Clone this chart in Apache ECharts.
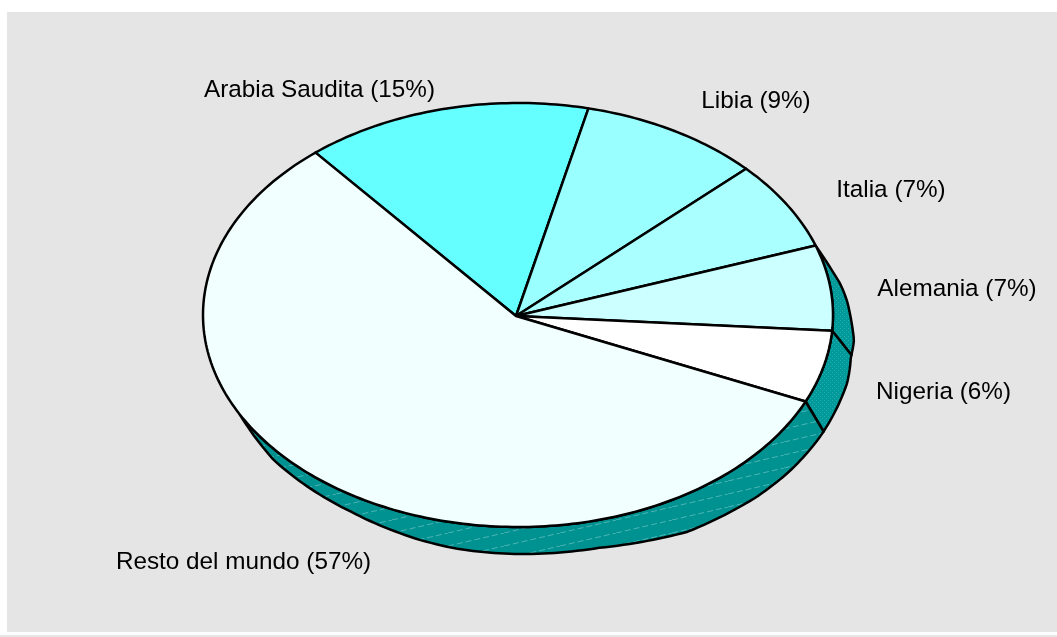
<!DOCTYPE html>
<html>
<head>
<meta charset="utf-8">
<style>html,body{margin:0;padding:0;background:#fff}#c{width:1057px;height:637px}</style>
<script src="https://cdn.jsdelivr.net/npm/echarts@6/dist/echarts.min.js"></script>
</head>
<body>
<div id="c"></div>
<script>
// --- data ---
const categories = ['Arabia Saudita', 'Libia', 'Italia', 'Alemania', 'Nigeria', 'Resto del mundo'];
const shares = [14.7, 9.3, 6.8, 6.5, 5.5, 57.2];          // measured slice sizes
const labels = ['Arabia Saudita (15%)', 'Libia (9%)', 'Italia (7%)', 'Alemania (7%)', 'Nigeria (6%)', 'Resto del mundo (57%)'];

// --- styling / layout ---
const colors = ['#66FFFF', '#99FFFF', '#AAFFFF', '#CCFFFF', '#FFFFFF', '#F2FFFF'];
const labelCenters = [[319.5, 90], [756, 101], [891, 190], [957, 289], [943.5, 392], [243.5, 562]];
const E = {cx: 518, cy: 315, rx: 315, ry: 212, ax: 516, ay: 316, start: -40};
// thickness of the tilted rim, as an offset of the top ellipse by angle (deg clockwise from top)
const rimA  = [71, 77, 83, 90, 95, 102, 114, 122, 132, 137, 150, 165, 180, 192, 198, 212, 231, 242];
const rimDx = [0, 15, 17, 21, 19, 21, 18, 18, 21, 22, 12.5, 0, -3, 0, 0, 0, 0, 0];
const rimDy = [0, 16, 14, 25, 24, 24, 30, 30, 28, 28, 33, 28, 27, 25.5, 23.5, 17, 11, 0];
const FONT = '"Liberation Sans", Arial, sans-serif';

function mk(w, h, draw) {
  const c = document.createElement('canvas'); c.width = w; c.height = h;
  draw(c.getContext('2d')); return c;
}
const dotted = mk(4, 4, g => {
  g.fillStyle = '#009A9A'; g.fillRect(0, 0, 4, 4);
  g.fillStyle = 'rgba(120,200,200,.35)'; g.fillRect(0, 0, 1, 1); g.fillRect(2, 2, 1, 1);
});
const hatched = mk(56, 13, g => {
  g.fillStyle = '#009191'; g.fillRect(0, 0, 56, 13);
  g.strokeStyle = 'rgba(170,225,225,.45)'; g.lineWidth = 1; g.setLineDash([6, 3]);
  g.beginPath(); g.moveTo(0, 13); g.lineTo(56, 0); g.stroke();
});
const rimFill = [null, null, null, {image: dotted, repeat: 'repeat'}, {image: dotted, repeat: 'repeat'}, {image: hatched, repeat: 'repeat'}];

const total = shares.reduce((a, b) => a + b, 0);
const starts = []; shares.reduce((a, v, i) => (starts[i] = a, a + v), 0);
const deg = v => E.start + v / total * 360;
const pt = t => { const r = t * Math.PI / 180; return [E.cx + E.rx * Math.sin(r), E.cy - E.ry * Math.cos(r)]; };
function rimOff(t) {
  if (t <= rimA[0] || t >= rimA[rimA.length - 1]) return [0, 0];
  let i = 0; while (rimA[i + 1] < t) i++;
  const f = (t - rimA[i]) / (rimA[i + 1] - rimA[i]);
  return [rimDx[i] + f * (rimDx[i + 1] - rimDx[i]), rimDy[i] + f * (rimDy[i + 1] - rimDy[i])];
}
function arc(a, b, step) {
  const out = [], n = Math.max(1, Math.ceil((b - a) / step));
  for (let i = 0; i <= n; i++) out.push(a + (b - a) * i / n);
  return out;
}
const stroke = {stroke: '#000', lineWidth: 2.5, lineJoin: 'round'};

function renderRim(params, api) {
  const i = params.dataIndex;
  if (!rimFill[i]) return {type: 'group', children: []};
  const a = Math.max(deg(starts[i]), rimA[0]);
  const b = Math.min(deg(starts[i] + api.value(0)), rimA[rimA.length - 1]);
  const ts = arc(a, b, 1);
  const top = ts.map(pt);
  const bottom = ts.map(t => { const p = pt(t), o = rimOff(t); return [p[0] + o[0], p[1] + o[1]]; }).reverse();
  return {type: 'polygon', shape: {points: top.concat(bottom)},
          style: Object.assign({fill: rimFill[i]}, stroke)};
}
function renderSlice(params, api) {
  const i = params.dataIndex;
  const a = deg(starts[i]), b = deg(starts[i] + api.value(0));
  const pts = [[E.ax, E.ay]].concat(arc(a, b, 1).map(pt));
  return {type: 'polygon', shape: {points: pts}, style: Object.assign({fill: colors[i]}, stroke)};
}
function renderLabel(params) {
  const i = params.dataIndex;
  return {type: 'text', x: labelCenters[i][0], y: labelCenters[i][1],
    style: {text: labels[i], fill: '#000', font: '24.3px ' + FONT, align: 'center', verticalAlign: 'middle'}};
}
const seriesData = shares.map((v, i) => ({name: categories[i], value: [v]}));
const chart = echarts.init(document.getElementById('c'), null, {renderer: 'canvas'});
chart.setOption({
  animation: false,
  backgroundColor: '#FFFFFF',
  graphic: [
    {type: 'rect', shape: {x: 7, y: 12, width: 1050, height: 620}, style: {fill: '#E5E5E5'}, z: -1},
    {type: 'rect', shape: {x: 0, y: 635, width: 1057, height: 2}, style: {fill: '#E5E5E5'}, z: -1}
  ],
  series: [
    {type: 'custom', coordinateSystem: 'none', silent: true, z: 1, data: seriesData, renderItem: renderRim},
    {type: 'custom', coordinateSystem: 'none', silent: true, z: 2, data: seriesData, renderItem: renderSlice},
    {type: 'custom', coordinateSystem: 'none', silent: true, z: 3, data: seriesData, renderItem: renderLabel}
  ]
});
</script>
</body>
</html>
